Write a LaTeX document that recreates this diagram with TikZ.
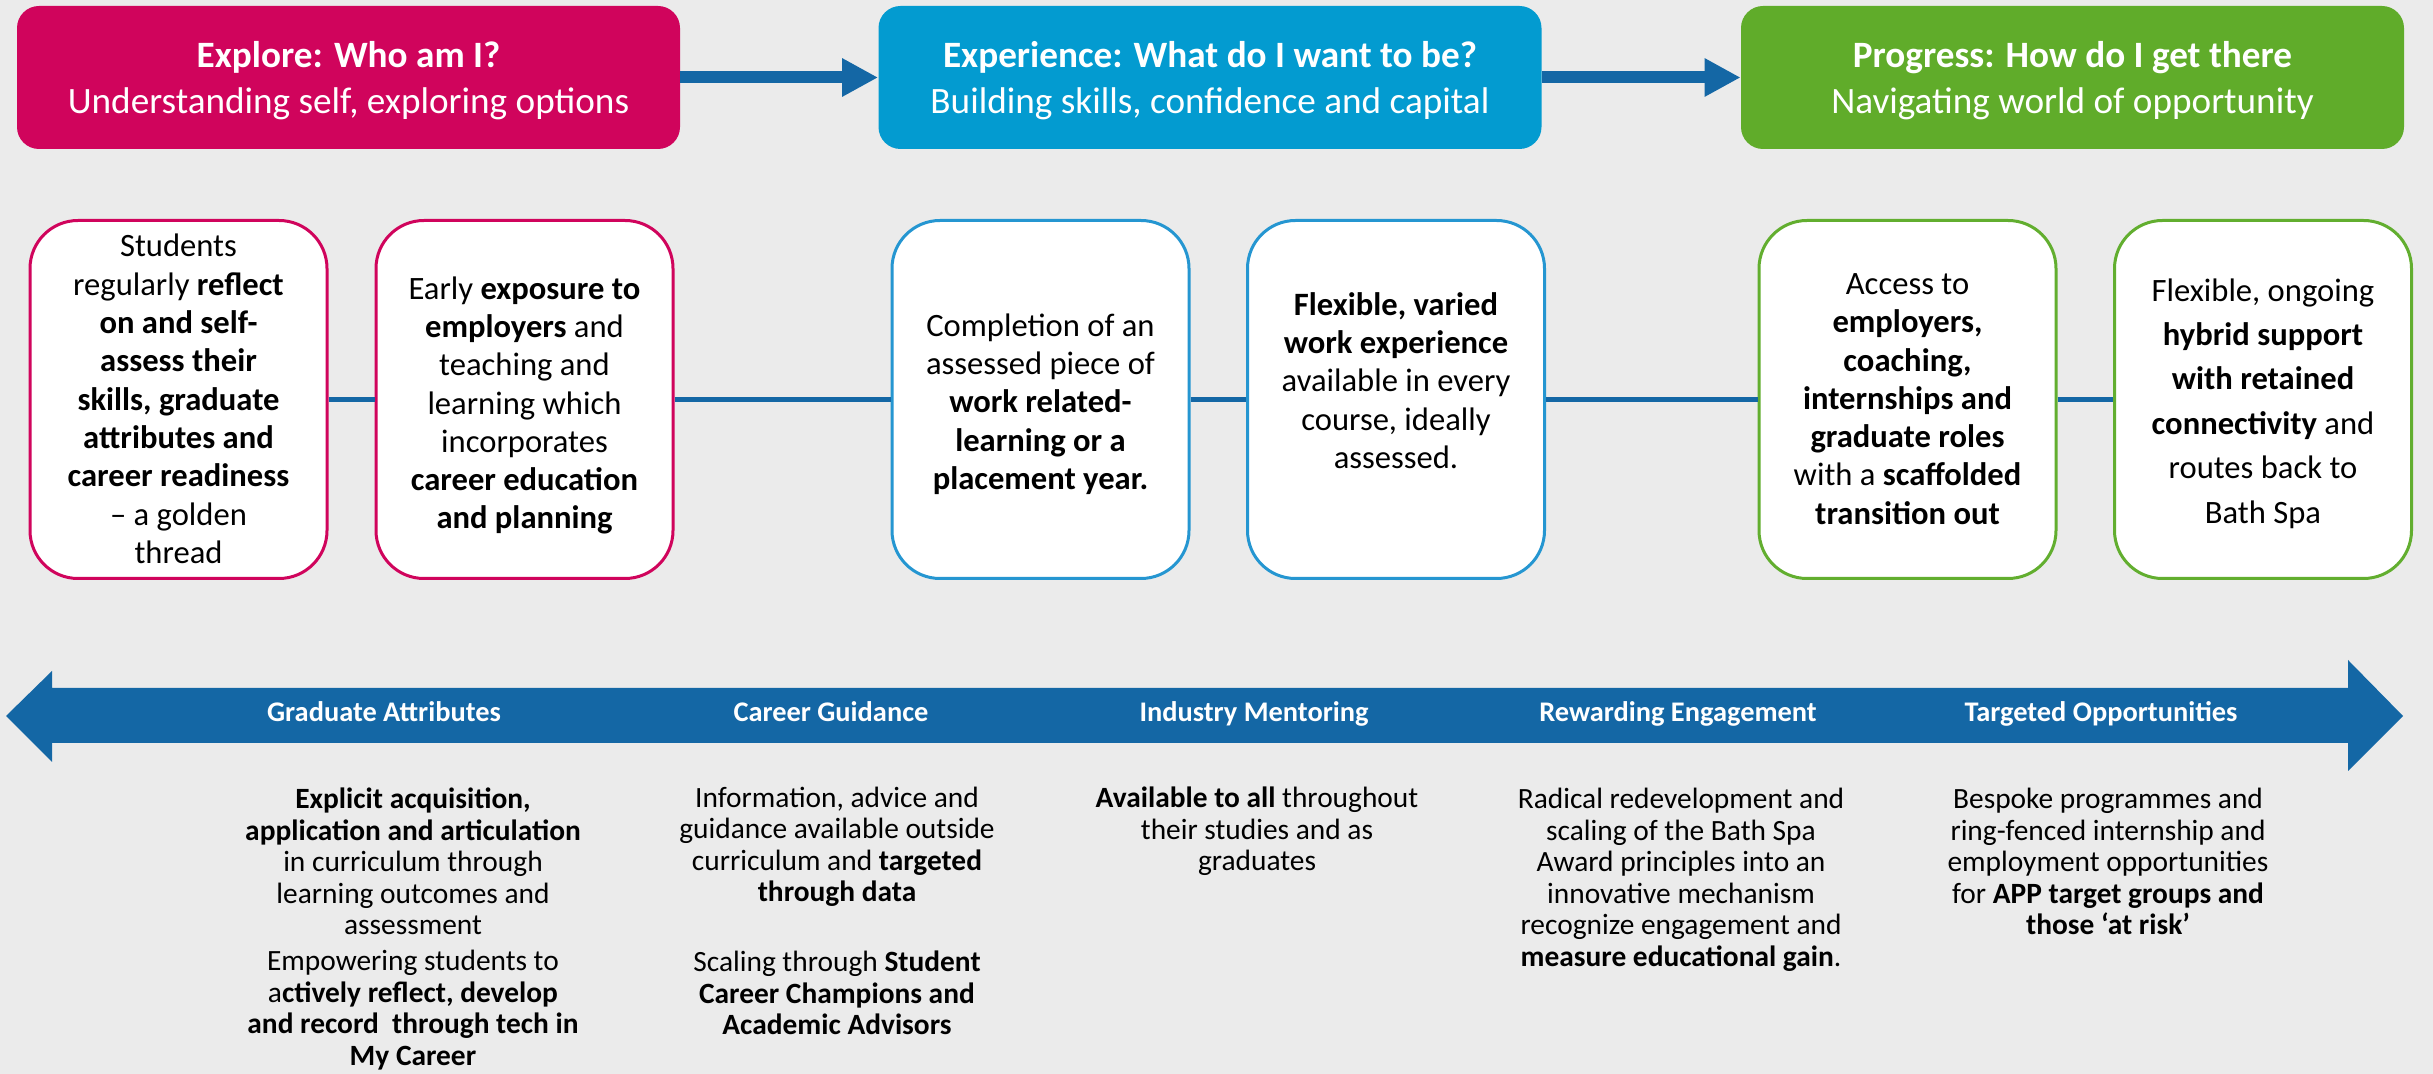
\documentclass[tikz,border=0pt]{standalone}
\usepackage{fontspec}
\setmainfont{Carlito}
\usetikzlibrary{arrows.meta}
\definecolor{bg}{HTML}{EBEBEB}
\definecolor{mag}{HTML}{D0045C}
\definecolor{sky}{HTML}{039BD0}
\definecolor{grn}{HTML}{60AC2A}
\definecolor{navy}{HTML}{1467A5}
\definecolor{skyline}{HTML}{2596D1}
\definecolor{grnline}{HTML}{62AE2F}
\begin{document}
\begin{tikzpicture}[x=0.5pt,y=-0.5pt,
 title/.style={fill=#1, rounded corners=11pt, minimum width=331.5pt, minimum height=71.5pt, inner sep=0pt, text=white, align=center, font=\fontsize{18.6}{23}\selectfont},
 card/.style={draw=#1, line width=1.5pt, fill=white, rounded corners=24pt, minimum width=148.5pt, minimum height=179pt, inner sep=0pt},
 cardtext/.style={align=center, inner sep=0pt, font=\fontsize{16.3}{19.15}\selectfont},
 flow/.style={draw=navy, line width=6pt, -{Triangle[length=18pt,width=18pt]}},
 link/.style={draw=navy, line width=2.6pt},
 band/.style={text=white, font=\bfseries\fontsize{14.2}{16}\selectfont, anchor=base, inner sep=0pt},
 note/.style={align=center, inner sep=0pt, font=\fontsize{14.7}{15.75}\selectfont}]
\fill[bg] (0,0) rectangle (2433,1074);
\useasboundingbox (0,0) rectangle (2433,1074);

% title boxes
\node[title=mag] (t1) at (348.5,77.5) {};
\node[title=sky] (t2) at (1210,77.5) {};
\node[title=grn] (t3) at (2072.5,77.5) {};
\node[title=none, text=white, minimum width=0pt, minimum height=0pt] (tt1) at (348.5,80.5) {\textbf{Explore: Who am I?}\\ Understanding self, exploring options};
\node[title=none, text=white, minimum width=0pt, minimum height=0pt] (tt2) at (1210,80.5) {\textbf{Experience: What do I want to be?}\\ Building skills, confidence and capital};
\node[title=none, text=white, minimum width=0pt, minimum height=0pt] (tt3) at (2072.5,80.5) {\textbf{Progress: How do I get there}\\ Navigating world of opportunity};
\draw[flow] (t1.east) -- (t2.west);
\draw[flow] (t2.east) -- (t3.west);

% cards
\node[card=mag] (b1) at (178.5,399.5) {};
\node[card=mag] (b2) at (524.5,399.5) {};
\node[card=skyline] (b3) at (1040.5,399.5) {};
\node[card=skyline] (b4) at (1396,399.5) {};
\node[card=grnline] (b5) at (1907.5,399.5) {};
\node[card=grnline] (b6) at (2263,399.5) {};
\draw[link] (b1.east) -- (b2.west);
\draw[link] (b2.east) -- (b3.west);
\draw[link] (b3.east) -- (b4.west);
\draw[link] (b4.east) -- (b5.west);
\draw[link] (b5.east) -- (b6.west);

\node[cardtext] (x1) at (178.5,399) {Students\\ regularly \textbf{reflect}\\ \textbf{on and self-}\\ \textbf{assess their}\\ \textbf{skills, graduate}\\ \textbf{attributes and}\\ \textbf{career readiness}\\ – a golden\\ thread};
\node[cardtext] (x2) at (524.5,405.5) {Early \textbf{exposure to}\\ \textbf{employers} and\\ teaching and\\ learning which\\ incorporates\\ \textbf{career education}\\ \textbf{and planning}};
\node[cardtext] (x3) at (1040.5,404) {Completion of an\\ assessed piece of\\ \textbf{work related-}\\ \textbf{learning or a}\\ \textbf{placement year.}};
\node[cardtext] (x4) at (1396,380.5) {\textbf{Flexible, varied}\\ \textbf{work experience}\\ available in every\\ course, ideally\\ assessed.};
\node[cardtext] (x5) at (1907.5,399) {Access to\\ \textbf{employers,}\\ \textbf{coaching,}\\ \textbf{internships and}\\ \textbf{graduate roles}\\ with a \textbf{scaffolded}\\ \textbf{transition out}};
\node[cardtext, font=\fontsize{16.3}{22.2}\selectfont] (x6) at (2263,403.5) {Flexible, ongoing\\ \textbf{hybrid support}\\ \textbf{with retained}\\ \textbf{connectivity} and\\ routes back to\\ Bath Spa};

% band arrow
\fill[navy] (6,716) -- (52,671) -- (52,688) -- (2348,688) -- (2348,660) -- (2403,716) -- (2348,771) -- (2348,743) -- (52,743) -- (52,762) -- cycle;
\node[band] (l1) at (384,722) {Graduate Attributes};
\node[band] (l2) at (831,722) {Career Guidance};
\node[band] (l3) at (1254,722) {Industry Mentoring};
\node[band] (l4) at (1678,722) {Rewarding Engagement};
\node[band] (l5) at (2101,722) {Targeted Opportunities};

% notes
\node[note] (n1) at (413,929) {\textbf{Explicit acquisition,}\\ \textbf{application and articulation}\\ in curriculum through\\ learning outcomes and\\ assessment\\[2.2pt] Empowering students to\\ a\textbf{ctively reflect, develop}\\ \textbf{and record \ through tech in}\\ \textbf{My Career}};
\node[note] (n2) at (837,911) {Information, advice and\\ guidance available outside\\ curriculum and \textbf{targeted}\\ \textbf{through data}\\[19.25pt] Scaling through \textbf{Student}\\ \textbf{Career Champions and}\\ \textbf{Academic Advisors}};
\node[note] (n3) at (1257,831.5) {\textbf{Available to all} throughout\\ their studies and as\\ graduates};
\node[note] (n4) at (1681,879.75) {Radical redevelopment and\\ scaling of the Bath Spa\\ Award principles into an\\ innovative mechanism\\ recognize engagement and\\ \textbf{measure educational gain}.};
\node[note] (n5) at (2108,861.5) {Bespoke programmes and\\ ring-fenced internship and\\ employment opportunities\\ for \textbf{APP target groups and}\\ \textbf{those ‘at risk’}};
\end{tikzpicture}
\end{document}
